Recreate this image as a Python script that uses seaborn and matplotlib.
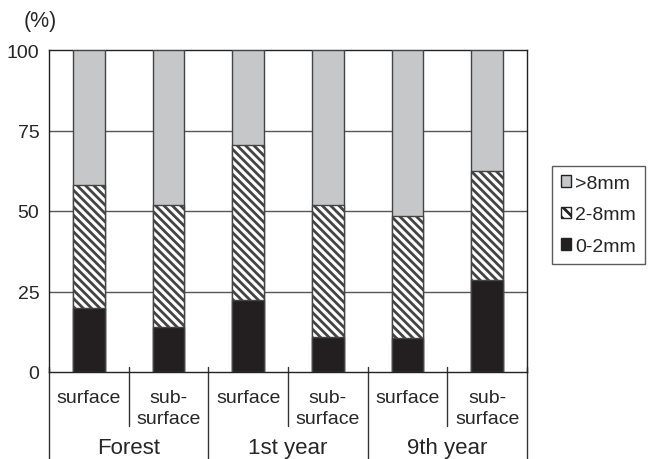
import matplotlib
matplotlib.use("Agg")
import matplotlib.pyplot as plt
import pandas as pd
import seaborn as sns
from matplotlib.patches import Patch

# data (percent of aggregates per size class)
samples = ["Forest surface", "Forest subsurface", "1st year surface",
           "1st year subsurface", "9th year surface", "9th year subsurface"]
tick_labels = ["surface", "sub-\nsurface", "surface", "sub-\nsurface", "surface", "sub-\nsurface"]
groups = ["Forest", "1st year", "9th year"]
fine = [20, 14, 22.5, 11, 10.5, 28.5]          # 0-2mm
medium = [38, 38, 48, 41, 38, 34]              # 2-8mm
coarse = [42, 48, 29.5, 48, 51.5, 37.5]        # >8mm

df = pd.DataFrame({"sample": samples, "fine": fine, "medium": medium, "coarse": coarse})
df["top_medium"] = df["fine"] + df["medium"]
df["top_coarse"] = df["top_medium"] + df["coarse"]

sns.set_style("white")
plt.rcParams["font.family"] = ["Liberation Sans", "DejaVu Sans"]
plt.rcParams["hatch.linewidth"] = 2.0
plt.rcParams["hatch.color"] = "#231f20"

fig = plt.figure(figsize=(6.5, 4.6), dpi=100)
ax = fig.add_axes([49 / 650, 1 - 373 / 460, 478 / 650, 322 / 460])

# stacked bars drawn as cumulative totals, largest first
edge = "#444444"
sns.barplot(data=df, x="sample", y="top_coarse", color="#c6c7c8", width=0.4,
            saturation=1, edgecolor=edge, linewidth=1, ax=ax, zorder=3)
sns.barplot(data=df, x="sample", y="top_medium", color="white", width=0.4,
            saturation=1, edgecolor=edge, linewidth=1, hatch="\\\\\\\\", ax=ax, zorder=3)
sns.barplot(data=df, x="sample", y="fine", color="#231f20", width=0.4,
            saturation=1, edgecolor=edge, linewidth=1, ax=ax, zorder=3)

ax.set_xlim(-0.5, 5.5)
ax.set_ylim(0, 100)
ax.set_yticks([0, 25, 50, 75, 100])
ax.set_yticklabels(["0", "25", "50", "75", "100"], fontsize=14)
ax.set_xticks(range(len(tick_labels)))
ax.set_xticklabels(tick_labels, fontsize=14, linespacing=1.3)
ax.tick_params(axis="both", length=0)
ax.tick_params(axis="y", pad=7)
ax.tick_params(axis="x", pad=12)
ax.set_xlabel("")
ax.set_ylabel("")

for yv in [25, 50, 75]:
    ax.axhline(yv, color="#555555", linewidth=1, zorder=1)
for s in ax.spines.values():
    s.set_color("#222222")
    s.set_linewidth(1)
    s.set_visible(True)

# separators below the axis
trans = ax.get_xaxis_transform()
for xv in [0.5, 2.5, 4.5]:
    ax.plot([xv, xv], [0.015, -0.168], color="#333333", lw=1, transform=trans, clip_on=False)
for xv in [-0.5, 1.5, 3.5, 5.5]:
    ax.plot([xv, xv], [0.015, -0.3], color="#333333", lw=1, transform=trans, clip_on=False)
for i, g in enumerate(groups):
    ax.text(2 * i + 0.5, -0.236, g, transform=trans, ha="center", va="center", fontsize=16)

fig.text(40 / 650, 1 - 21 / 460, "(%)", ha="center", va="center", fontsize=15.5)

handles = [Patch(facecolor="#c6c7c8", edgecolor="#222222", label=">8mm"),
           Patch(facecolor="white", edgecolor="#222222", hatch="\\\\\\", label="2-8mm"),
           Patch(facecolor="#231f20", edgecolor="#222222", label="0-2mm")]
leg = fig.legend(handles=handles, loc="upper left", bbox_to_anchor=(552 / 650, 1 - 167 / 460),
                 fontsize=14, frameon=True, fancybox=False, handlelength=0.55, handleheight=0.55,
                 handletextpad=0.2, labelspacing=0.75, borderpad=0.45, borderaxespad=0)
leg.get_frame().set_edgecolor("#333333")
leg.get_frame().set_linewidth(1)

fig.savefig("out.png", dpi=100)
